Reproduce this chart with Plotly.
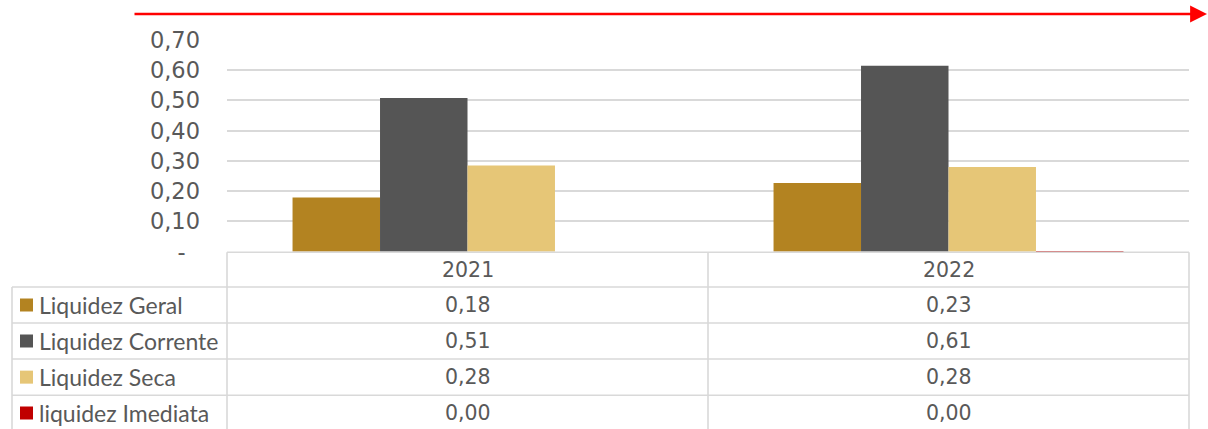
import plotly.graph_objects as go

# ---- data ----
categories = ["2021", "2022"]
series_names = ["Liquidez Geral", "Liquidez Corrente", "Liquidez Seca", "liquidez Imediata"]
liquidez_geral = [0.179, 0.227]
liquidez_corrente = [0.508, 0.615]
liquidez_seca = [0.285, 0.280]
liquidez_imediata = [0.0, 0.0015]
series_values = [liquidez_geral, liquidez_corrente, liquidez_seca, liquidez_imediata]
series_colors = ["#B38321", "#555555", "#E6C677", "#C00000"]
y_tickvals = [0, 0.1, 0.2, 0.3, 0.4, 0.5, 0.6, 0.7]
y_ticktext = ["-\u00a0\u00a0", "0,10", "0,20", "0,30", "0,40", "0,50", "0,60", "0,70"]

W, H = 1208, 429
TXT = "#595959"
GRID = "#d9d9d9"

def px(x):
    return x / W

def py(y):
    return (H - y) / H

def fmt(v):
    return f"{v:.2f}".replace(".", ",")

fig = go.Figure()
for name, vals, col in zip(series_names, series_values, series_colors):
    fig.add_trace(go.Bar(x=categories, y=vals, name=name, marker_color=col,
                         marker_line_width=0, showlegend=False))

plot_left, plot_right = 227, 1189
zero_y, top_y = 251.7, 40

fig.update_layout(
    width=W, height=H, autosize=False,
    margin=dict(l=0, r=0, t=0, b=0, autoexpand=False),
    paper_bgcolor="white", plot_bgcolor="white",
    barmode="group", bargap=0.2725, bargroupgap=0,
    showlegend=False,
    xaxis=dict(domain=[px(plot_left), px(plot_right)], showticklabels=False,
               showgrid=False, zeroline=False, showline=False, type="category",
               categoryorder="array", categoryarray=categories,
               range=[-0.5, len(categories) - 0.5], autorange=False, automargin=False),
    yaxis=dict(domain=[py(zero_y), py(top_y)], range=[0, 0.7], autorange=False,
               tickvals=y_tickvals, ticktext=y_ticktext,
               showgrid=True, gridcolor=GRID, gridwidth=1.5,
               zeroline=False, showline=False, ticks="", automargin=False,
               ticklabelstandoff=26,
               tickfont=dict(family="DejaVu Sans", size=22.5, color=TXT)),
)

shapes = []
line = dict(color=GRID, width=1.6)
row_edges = [252.3, 287, 323, 359, 395.3, 431]
left_edge = 12
col_div = 708
shapes.append(dict(type="line", xref="paper", yref="paper", x0=px(plot_left), x1=px(plot_right),
                   y0=py(row_edges[0]), y1=py(row_edges[0]), line=line))
for ye in row_edges[1:5]:
    shapes.append(dict(type="line", xref="paper", yref="paper", x0=px(left_edge), x1=px(plot_right),
                       y0=py(ye), y1=py(ye), line=line))
for xe in [plot_left, col_div, plot_right]:
    shapes.append(dict(type="line", xref="paper", yref="paper", x0=px(xe), x1=px(xe),
                       y0=py(row_edges[0]), y1=py(H + 2), line=line))
shapes.append(dict(type="line", xref="paper", yref="paper", x0=px(left_edge), x1=px(left_edge),
                   y0=py(row_edges[1]), y1=py(H + 2), line=line))

annotations = []
for ci, c in enumerate(categories):
    annotations.append(dict(x=ci, xref="x", y=py((row_edges[0] + row_edges[1]) / 2), yref="paper",
                            text=c, showarrow=False, xanchor="center", yanchor="middle",
                            font=dict(family="DejaVu Sans", size=20.5, color=TXT)))
for i, (name, vals, col) in enumerate(zip(series_names, series_values, series_colors)):
    yc = (row_edges[i + 1] + row_edges[i + 2]) / 2
    if i == 3:
        yc = 413
    shapes.append(dict(type="rect", xref="paper", yref="paper", x0=px(20), x1=px(33),
                       y0=py(yc - 6.5), y1=py(yc + 6.5), fillcolor=col, line=dict(width=0)))
    annotations.append(dict(x=px(37), xref="paper", y=py(yc), yref="paper", text=name,
                            showarrow=False, xanchor="left", yanchor="middle",
                            font=dict(family="Lato", size=23, color=TXT)))
    for ci, v in enumerate(vals):
        annotations.append(dict(x=ci, xref="x", y=py(yc), yref="paper", text=fmt(v),
                                showarrow=False, xanchor="center", yanchor="middle",
                                font=dict(family="DejaVu Sans", size=20.5, color=TXT)))

annotations.append(dict(x=px(1215), xref="paper", y=py(14), yref="paper", text="",
                        showarrow=True, ax=-(1215 - 133), ay=0, axref="pixel", ayref="pixel",
                        arrowhead=2, arrowsize=1.3, arrowwidth=2.6, arrowcolor="#FF0000"))

fig.update_layout(shapes=shapes, annotations=annotations)
fig.write_html("out.html", config={"displayModeBar": False},
               post_script="document.body.style.margin='0';")
